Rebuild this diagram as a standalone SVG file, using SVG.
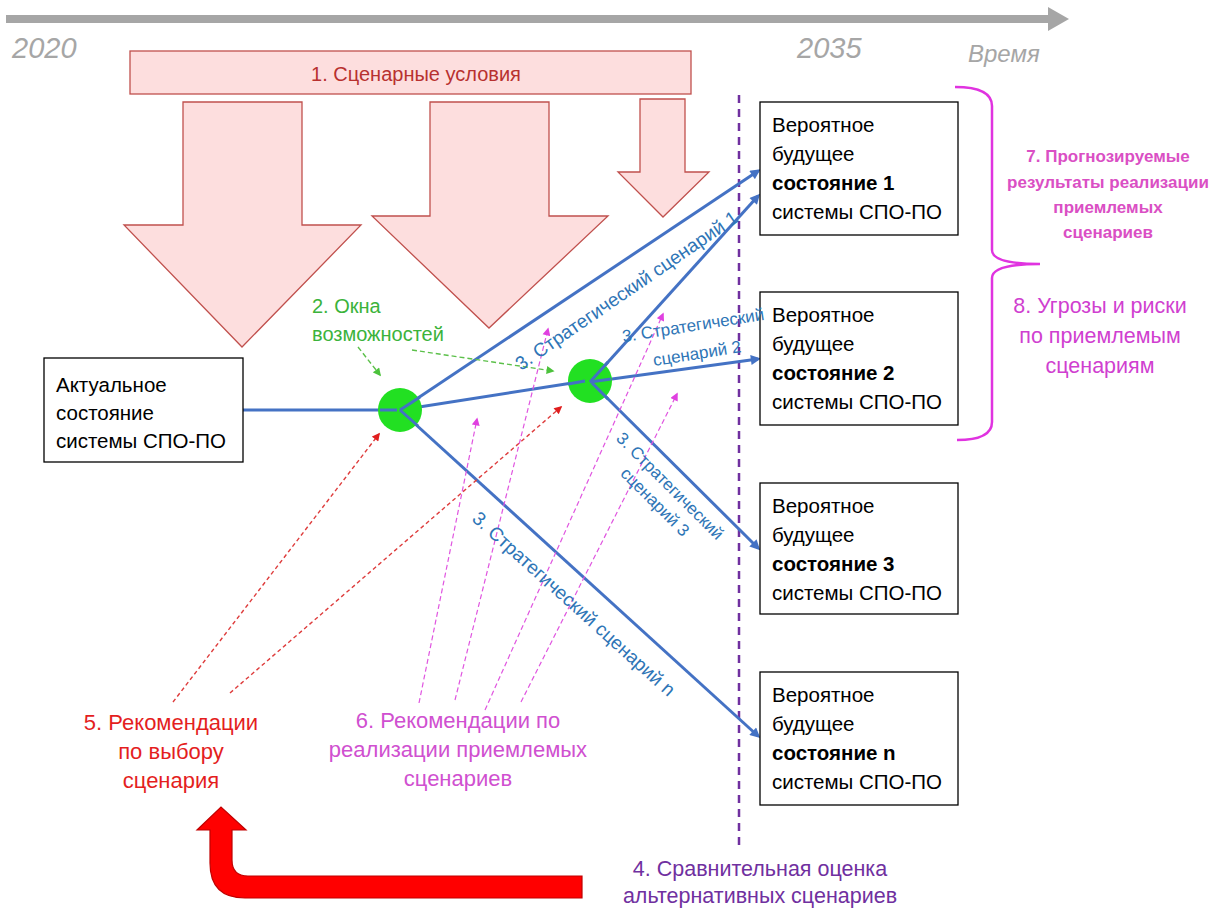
<svg xmlns="http://www.w3.org/2000/svg" width="1214" height="908" viewBox="0 0 1214 908">
<defs>
<style>
text{font-family:"Liberation Sans",Arial,sans-serif}
.box{fill:#fff;stroke:#000;stroke-width:1.3}
.bt{font-size:20.5px;fill:#000}
.b{font-weight:bold}
.big{fill:#FDDEDE;stroke:#C0504D;stroke-width:1.3}
.blue{stroke:#4472C4;stroke-width:3;fill:none;marker-end:url(#mb)}
.sl{font-size:17px;fill:#2E75B6}
.sl19{font-size:19px;fill:#2E75B6}
.gd{stroke:#5CC04A;stroke-width:1.4;stroke-dasharray:5 3;fill:none;marker-end:url(#mg)}
.rd{stroke:#DE3C3C;stroke-width:1.4;stroke-dasharray:4 3;fill:none;marker-end:url(#mr)}
.pd{stroke:#E055E0;stroke-width:1.2;stroke-dasharray:5 3;fill:none;marker-end:url(#mp)}
.yr{font-style:italic;fill:#A6A6A6}
.gc{fill:#22E022}
.bl{stroke:#4472C4;stroke-width:3}
.mid{text-anchor:middle}
</style>
<marker id="mb" viewBox="0 0 10 10" refX="7" refY="5" markerWidth="4" markerHeight="3.4" orient="auto" markerUnits="strokeWidth"><path d="M0,0 L10,5 L0,10 z" fill="#4472C4"/></marker>
<marker id="mg" viewBox="0 0 10 10" refX="8" refY="5" markerWidth="9" markerHeight="8" orient="auto" markerUnits="userSpaceOnUse"><path d="M0,0 L10,5 L0,10 z" fill="#4CC23C"/></marker>
<marker id="mr" viewBox="0 0 10 10" refX="8" refY="5" markerWidth="9" markerHeight="8" orient="auto" markerUnits="userSpaceOnUse"><path d="M0,0 L10,5 L0,10 z" fill="#E01E1E"/></marker>
<marker id="mp" viewBox="0 0 10 10" refX="8" refY="5" markerWidth="9" markerHeight="8" orient="auto" markerUnits="userSpaceOnUse"><path d="M0,0 L10,5 L0,10 z" fill="#E040E0"/></marker>
</defs>
<rect width="1214" height="908" fill="#fff"/>

<g id="timeline">
<line x1="6" y1="19" x2="1050" y2="19" stroke="#A6A6A6" stroke-width="8"/>
<polygon points="1048,7 1069,19 1048,31" fill="#A6A6A6"/>
<text x="12" y="58" class="yr" font-size="29">2020</text>
<text x="797" y="58" class="yr" font-size="29">2035</text>
<text x="968" y="62" class="yr" font-size="24">Время</text>
</g>

<g id="scenario-conditions">
<rect x="130" y="51" width="561" height="43" class="big"/>
<text x="416" y="81" class="mid" font-size="20" fill="#B8312F">1. Сценарные условия</text>
<polygon class="big" points="183,102 302,102 302,225 361,225 242,347 124,225 183,225"/>
<polygon class="big" points="430,102 549,102 549,216 608,216 489,328 372,216 430,216"/>
<polygon class="big" points="640,99 685,99 685,172 709,172 663,217 618,172 640,172"/>
</g>

<line id="horizon" x1="739" y1="95" x2="739" y2="845" stroke="#7030A0" stroke-width="2.5" stroke-dasharray="8 6"/>

<g id="connectors">
<line class="blue" x1="243" y1="410" x2="397" y2="410"/>
<line class="blue" x1="400" y1="410" x2="585" y2="381"/>
<line class="blue" x1="400" y1="410" x2="758" y2="171"/>
<line class="blue" x1="590" y1="382" x2="758" y2="196"/>
<line class="blue" x1="590" y1="382" x2="758" y2="359"/>
<line class="blue" x1="592" y1="383" x2="758" y2="548"/>
<line class="blue" x1="402" y1="412" x2="758" y2="736"/>
<line class="gd" x1="358" y1="347" x2="380" y2="375"/>
<line class="gd" x1="412" y1="350" x2="553" y2="371"/>
<line class="rd" x1="173" y1="702" x2="379" y2="434"/>
<line class="rd" x1="230" y1="693" x2="561" y2="407"/>
<line class="pd" x1="419" y1="703" x2="477" y2="419"/>
<line class="pd" x1="455" y1="700" x2="548" y2="329"/>
<line class="pd" x1="485" y1="710" x2="663" y2="314"/>
<line class="pd" x1="521" y1="702" x2="677" y2="394"/>
<path d="M 210 830 L 210 863 Q 210 898 245 898 L 582 898 L 582 876 L 248 876 Q 232 876 232 860 L 232 830 L 246 830 L 221 807 L 197 830 Z" fill="#FF0000" stroke="#C00000" stroke-width="1.2"/>
</g>

<g id="node-actual">
<rect x="44" y="358" width="199" height="104" class="box"/>
<text class="bt" x="56" y="392">Актуальное</text>
<text class="bt" x="56" y="420">состояние</text>
<text class="bt" x="56" y="448">системы СПО-ПО</text>
</g>

<g id="node-window1"><circle cx="400" cy="410" r="22" class="gc"/></g>
<g id="node-window2"><circle cx="590" cy="381" r="22" class="gc"/></g>
<g id="connectors-over-windows">
<line class="bl" x1="400" y1="410" x2="420" y2="397"/>
<line class="bl" x1="400" y1="410" x2="418" y2="426"/>
<line class="bl" x1="380" y1="410" x2="397" y2="410"/>
<line class="bl" x1="590" y1="382" x2="608" y2="362"/>
<line class="bl" x1="590" y1="382" x2="611" y2="379"/>
<line class="bl" x1="592" y1="383" x2="608" y2="399"/>
<line class="bl" x1="568" y1="384" x2="585" y2="381"/>
</g>

<g id="node-future1">
<rect x="760" y="102" width="198" height="133" class="box"/>
<text class="bt" x="772" y="132">Вероятное</text>
<text class="bt" x="772" y="161">будущее</text>
<text class="bt b" x="772" y="190">состояние 1</text>
<text class="bt" x="772" y="219">системы СПО-ПО</text>
</g>
<g id="node-future2">
<rect x="760" y="292" width="198" height="133" class="box"/>
<text class="bt" x="772" y="322">Вероятное</text>
<text class="bt" x="772" y="351">будущее</text>
<text class="bt b" x="772" y="380">состояние 2</text>
<text class="bt" x="772" y="409">системы СПО-ПО</text>
</g>
<g id="node-future3">
<rect x="760" y="483" width="198" height="131" class="box"/>
<text class="bt" x="772" y="513">Вероятное</text>
<text class="bt" x="772" y="542">будущее</text>
<text class="bt b" x="772" y="571">состояние 3</text>
<text class="bt" x="772" y="600">системы СПО-ПО</text>
</g>
<g id="node-futuren">
<rect x="760" y="672" width="198" height="133" class="box"/>
<text class="bt" x="772" y="702">Вероятное</text>
<text class="bt" x="772" y="731">будущее</text>
<text class="bt b" x="772" y="760">состояние n</text>
<text class="bt" x="772" y="789">системы СПО-ПО</text>
</g>

<g id="scenario-labels">
<text class="sl19" x="521" y="371" transform="rotate(-34.5 521 371)">3. Стратегический сценарий 1</text>
<text class="sl mid" x="694" y="331" transform="rotate(-9 694 331)">3. Стратегический</text>
<text class="sl mid" x="698" y="359" transform="rotate(-9 698 359)">сценарий 2</text>
<text class="sl mid" x="666" y="490" transform="rotate(45 666 490)">3. Стратегический</text>
<text class="sl mid" x="651" y="506" transform="rotate(45 651 506)">сценарий 3</text>
<text class="sl19" x="471" y="520" transform="rotate(42 471 520)">3. Стратегический сценарий n</text>
</g>

<g id="label-windows">
<text x="312" y="313" font-size="20" fill="#3BB33B">2. Окна</text>
<text x="312" y="341" font-size="20" fill="#3BB33B">возможностей</text>
</g>

<g id="brace">
<path d="M 955 87 Q 992 87 992 106 L 992 250 Q 992 264 1040 264 Q 992 264 992 278 L 992 422 Q 992 440 957 440" fill="none" stroke="#E033E0" stroke-width="2.5"/>
</g>

<g id="label-results">
<text class="mid b" x="1108" y="162" font-size="17" fill="#DA4FC4">7. Прогнозируемые</text>
<text class="mid b" x="1108" y="188" font-size="17" fill="#DA4FC4">результаты реализации</text>
<text class="mid b" x="1108" y="213" font-size="17" fill="#DA4FC4">приемлемых</text>
<text class="mid b" x="1108" y="238" font-size="17" fill="#DA4FC4">сценариев</text>
</g>
<g id="label-risks">
<text class="mid" x="1100" y="313" font-size="21.5" fill="#D03FD0">8. Угрозы и риски</text>
<text class="mid" x="1100" y="343" font-size="21.5" fill="#D03FD0">по приемлемым</text>
<text class="mid" x="1100" y="373" font-size="21.5" fill="#D03FD0">сценариям</text>
</g>

<g id="label-choice">
<text class="mid" x="171" y="730" font-size="22" fill="#E41E1E">5. Рекомендации</text>
<text class="mid" x="171" y="759" font-size="22" fill="#E41E1E">по выбору</text>
<text class="mid" x="171" y="788" font-size="22" fill="#E41E1E">сценария</text>
</g>
<g id="label-implementation">
<text class="mid" x="458" y="728" font-size="22" fill="#D050D0">6. Рекомендации по</text>
<text class="mid" x="458" y="757" font-size="22" fill="#D050D0">реализации приемлемых</text>
<text class="mid" x="458" y="786" font-size="22" fill="#D050D0">сценариев</text>
</g>
<g id="label-comparison">
<text class="mid" x="760" y="876" font-size="21.5" fill="#7030A0">4. Сравнительная оценка</text>
<text class="mid" x="760" y="903" font-size="21.5" fill="#7030A0">альтернативных сценариев</text>
</g>
</svg>
